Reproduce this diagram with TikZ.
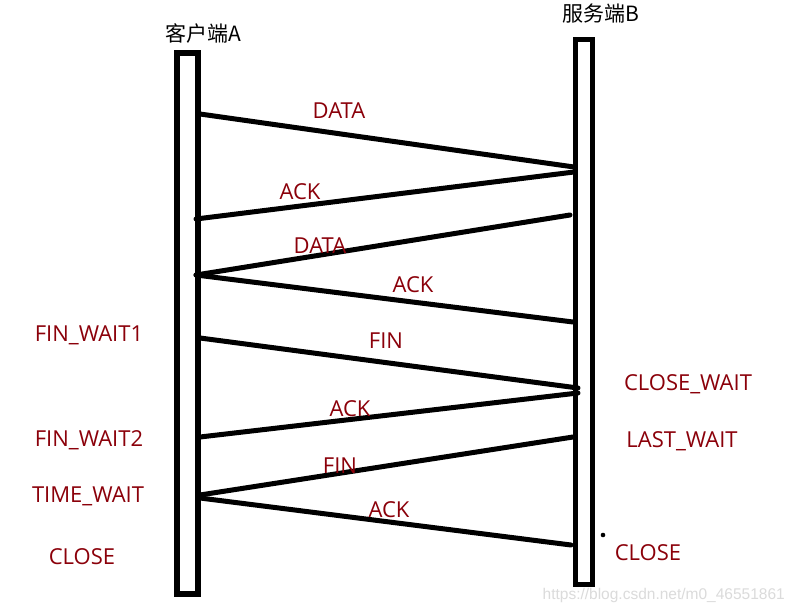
\documentclass[tikz,border=0pt]{standalone}
\usepackage{fontspec}
\setmainfont{Open Sans}
\newfontfamily\cjk{Noto Sans CJK SC}
\newfontfamily\wmfont{Liberation Sans}
\definecolor{lbl}{RGB}{139,0,10}
\begin{document}
\begin{tikzpicture}[x=1pt,y=-1pt,
  bar/.style={draw=black,line width=5.8pt,fill=white,minimum width=21pt,inner sep=0pt},
  msg/.style={draw=black,line width=5pt,line cap=round},
  lab/.style={text=lbl,font=\fontsize{22}{22}\selectfont,inner sep=0pt},
  title/.style={text=black,font=\cjk\fontsize{21}{21}\selectfont,inner sep=0pt}]
\useasboundingbox (0,0) rectangle (789,612);
\fill[white] (0,0) rectangle (789,612);
% lifelines
\node[bar,minimum height=541pt] (A) at (187.5,323.5) {};
\node[bar,minimum width=17pt,minimum height=545pt] (B) at (584,312) {};
\node[title] (tA) at (203,33) {客户端A};
\node[title] (tB) at (601,14) {服务端B};
% endpoints
\coordinate (a1) at (200,114);   \coordinate (b1) at (574,167);
\coordinate (b2) at (574,172);   \coordinate (a2) at (196,219);
\coordinate (b3) at (570,215);   \coordinate (a3) at (196,275);
\coordinate (a4) at (196,275);   \coordinate (b4) at (573,322);
\coordinate (a5) at (200,338);   \coordinate (b5) at (578,388);
\coordinate (b6) at (578,393);   \coordinate (a6) at (200,437);
\coordinate (b7) at (573,437);   \coordinate (a7) at (200,495);
\coordinate (a8) at (200,498);   \coordinate (b8) at (571,545);
\draw[msg] (a1) -- (b1);
\draw[msg] (b2) -- (a2);
\draw[msg] (b3) -- (a3);
\draw[msg] (a4) -- (b4);
\draw[msg] (a5) -- (b5);
\draw[msg] (b6) -- (a6);
\draw[msg] (b7) -- (a7);
\draw[msg] (a8) -- (b8);
\fill[black] (603,535) circle (2.3pt);
% message labels
\node[lab] (l1) at (339,111) {DATA};
\node[lab] (l2) at (300,192) {ACK};
\node[lab] (l3) at (320,246) {DATA};
\node[lab] (l4) at (413,285) {ACK};
\node[lab] (l5) at (386,341) {FIN};
\node[lab] (l6) at (350,409) {ACK};
\node[lab] (l7) at (340,466) {FIN};
\node[lab] (l8) at (389,510) {ACK};
% states
\node[lab] (s1) at (89,335) {FIN\_WAIT1};
\node[lab] (s2) at (89,440) {FIN\_WAIT2};
\node[lab] (s3) at (88,496) {TIME\_WAIT};
\node[lab] (s4) at (82,557) {CLOSE};
\node[lab] (s5) at (688,384) {CLOSE\_WAIT};
\node[lab] (s6) at (682,441) {LAST\_WAIT};
\node[lab] (s7) at (648,553) {CLOSE};
% watermark
\node[text=black!14,font=\wmfont\fontsize{15.5}{16}\selectfont,inner sep=0pt,anchor=east] (wm) at (785,595) {https://blog.csdn.net/m0\_46551861};
\end{tikzpicture}
\end{document}
